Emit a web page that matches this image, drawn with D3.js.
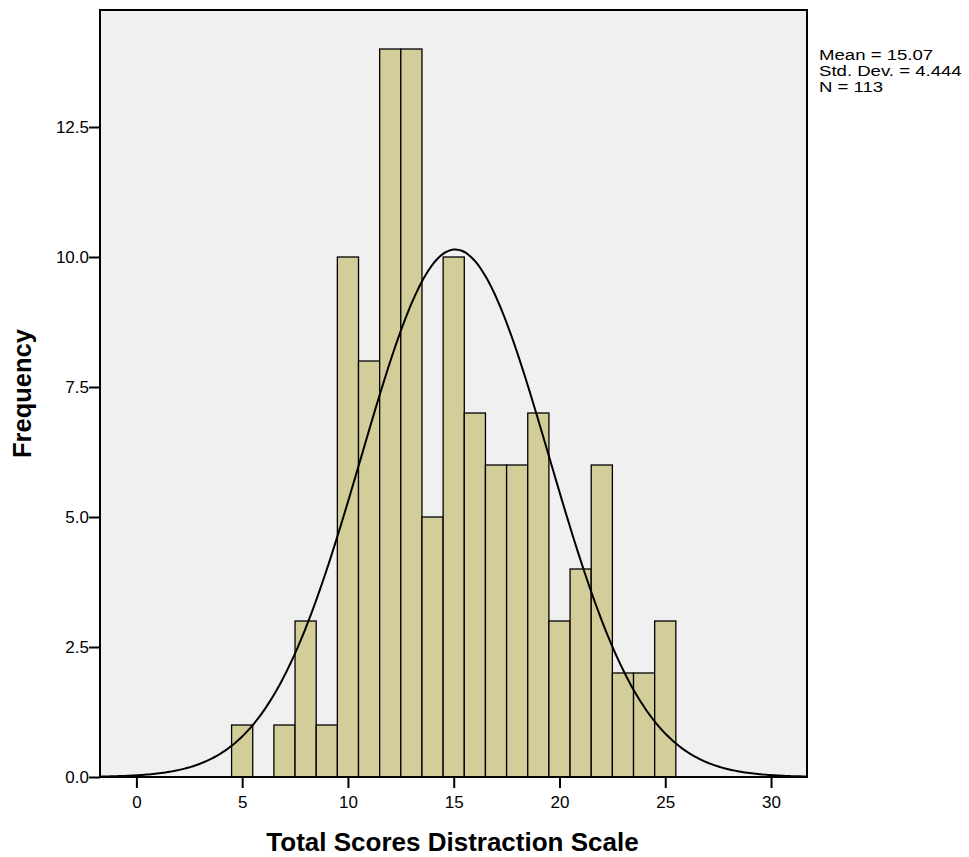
<!DOCTYPE html>
<html>
<head>
<meta charset="utf-8">
<script src="https://cdn.jsdelivr.net/npm/d3@7"></script>
<style>
  body { margin: 0; background: #fff; }
  text { font-family: "Liberation Sans", Arial, sans-serif; }
</style>
</head>
<body>
<script>
const scores = [5, 6, 7, 8, 9, 10, 11, 12, 13, 14, 15, 16, 17, 18, 19, 20, 21, 22, 23, 24, 25];
const counts = [1, 0, 1, 3, 1, 10, 8, 14, 14, 5, 10, 7, 6, 6, 7, 3, 4, 6, 2, 2, 3];
const xTicks = [0, 5, 10, 15, 20, 25, 30];
const yTicks = [0, 2.5, 5, 7.5, 10, 12.5];
const mean = 15.07;
const sd = 4.444;
const n = 113;
const statLines = ["Mean = 15.07", "Std. Dev. = 4.444", "N = 113"];

const width = 969;
const height = 857;
const plotLeft = 100, plotTop = 10, plotRight = 807, plotBottom = 777;

const svg = d3.select("body").append("svg")
  .attr("width", width)
  .attr("height", height);

const x = d3.scaleLinear().domain([-1.72, 31.7]).range([plotLeft, plotRight]);
const y = d3.scaleLinear().domain([0, 14.75]).range([plotBottom, plotTop]);

svg.append("rect")
  .attr("x", plotLeft).attr("y", plotTop)
  .attr("width", plotRight - plotLeft).attr("height", plotBottom - plotTop)
  .attr("fill", "#f0f0f0");

const bars = scores.map((s, i) => ({ s, c: counts[i] })).filter((d) => d.c > 0);

svg.selectAll("rect.bar")
  .data(bars)
  .enter()
  .append("rect")
  .attr("class", "bar")
  .attr("x", (d) => x(d.s - 0.5))
  .attr("y", (d) => y(d.c))
  .attr("width", (d) => x(d.s + 0.5) - x(d.s - 0.5))
  .attr("height", (d) => y(0) - y(d.c))
  .attr("fill", "#d3ce99")
  .attr("stroke", "#000")
  .attr("stroke-width", 1.3);

// fitted normal curve from the stats shown
const curve = d3.range(-1.72, 31.71, 0.1).map((v) => [
  v,
  (n / (sd * Math.sqrt(2 * Math.PI))) * Math.exp(-((v - mean) ** 2) / (2 * sd * sd)),
]);

svg.append("path")
  .datum(curve)
  .attr("fill", "none")
  .attr("stroke", "#000")
  .attr("stroke-width", 2)
  .attr("d", d3.line().x((d) => x(d[0])).y((d) => y(d[1])));

// frame
svg.append("rect")
  .attr("x", plotLeft).attr("y", plotTop)
  .attr("width", plotRight - plotLeft).attr("height", plotBottom - plotTop)
  .attr("fill", "none")
  .attr("stroke", "#000")
  .attr("stroke-width", 2);

const xAxis = svg.append("g")
  .attr("transform", `translate(0, ${plotBottom})`)
  .call(d3.axisBottom(x).tickValues(xTicks).tickSize(11).tickPadding(8).tickFormat(d3.format("d")));
xAxis.select(".domain").remove();
xAxis.selectAll("line").attr("stroke-width", 2);
xAxis.selectAll("text").style("font-size", "17px").attr("fill", "#000");

const yAxis = svg.append("g")
  .attr("transform", `translate(${plotLeft}, 0)`)
  .call(d3.axisLeft(y).tickValues(yTicks).tickSize(11).tickPadding(0).tickFormat(d3.format(".1f")));
yAxis.select(".domain").remove();
yAxis.selectAll("line").attr("stroke-width", 2);
yAxis.selectAll("text").style("font-size", "17px").attr("fill", "#000");

svg.append("text")
  .attr("x", (plotLeft + plotRight) / 2 - 1)
  .attr("y", 851)
  .attr("text-anchor", "middle")
  .style("font-size", "26px")
  .style("font-weight", "bold")
  .text("Total Scores Distraction Scale");

svg.append("text")
  .attr("transform", `translate(31, ${(plotTop + plotBottom) / 2}) rotate(-90)`)
  .attr("text-anchor", "middle")
  .style("font-size", "25.5px")
  .style("font-weight", "bold")
  .text("Frequency");

svg.append("g")
  .attr("transform", "translate(819, 0) scale(1.24, 1)")
  .selectAll("text")
  .data(statLines)
  .enter()
  .append("text")
  .attr("x", 0)
  .attr("y", (d, i) => 60 + i * 15.8)
  .style("font-size", "15px")
  .text((d) => d);
</script>
</body>
</html>
